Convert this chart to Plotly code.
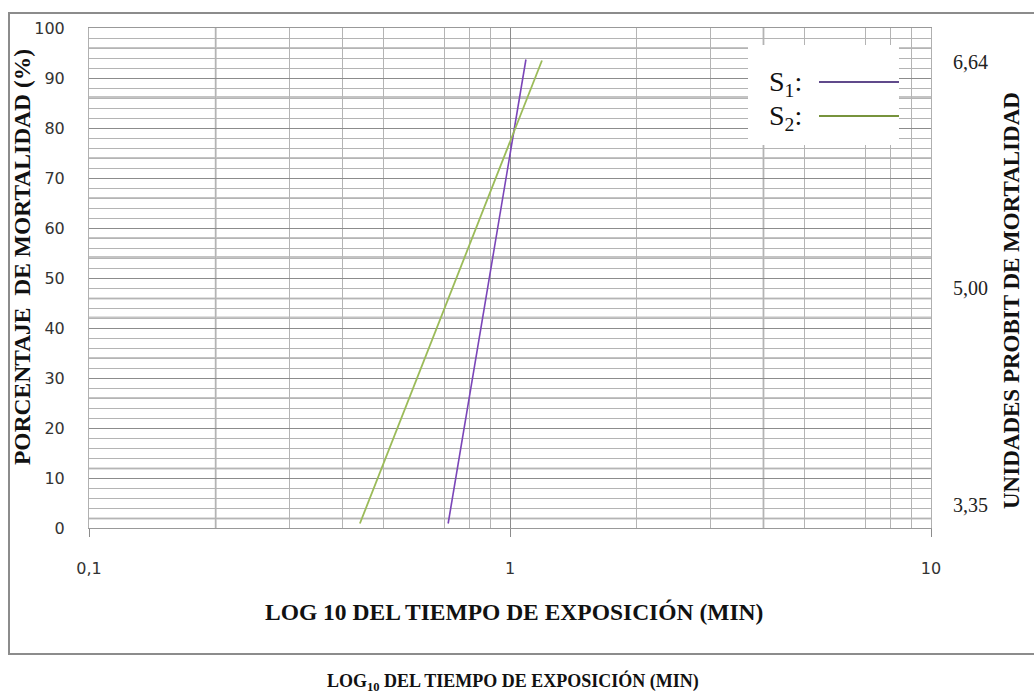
import plotly.graph_objects as go

# ---------------- data ----------------
s1_time = [0.713, 1.091]
s1_mort = [0.9, 93.7]
s2_time = [0.440, 1.191]
s2_mort = [0.9, 93.5]

series_labels = ["S<sub>1</sub>:", "S<sub>2</sub>:"]
series_colors = ["#7a45b8", "#9bbb59"]
legend_colors = ["#604a8b", "#77933c"]

x_tick_vals = [0.1, 1, 10]
x_tick_labels = ["0,1", "1", "10"]
y_tick_vals = [0, 10, 20, 30, 40, 50, 60, 70, 80, 90, 100]
probit_vals = [4.7, 48.1, 93.3]
probit_labels = ["3,35", "5,00", "6,64"]

x_minor = [0.2, 0.3, 0.4, 0.5, 0.7, 0.8, 0.9, 2, 3, 4, 5, 7, 8, 9]
x_thick = [0.2, 4]
y_thick = [1.9, 11.9, 26, 34, 42.1, 45.9, 54.2, 58, 66, 74, 86.2, 96]

# ---------------- geometry helpers ----------------
W, H = 1034, 696
L, R, T, B = 89, 931, 28, 528


def px(x):
    return (x - L) / (R - L)


def py(y):
    return (B - y) / (B - T)


serif = "Liberation Serif, Times New Roman, serif"
sans = "DejaVu Sans, Verdana, sans-serif"

fig = go.Figure()
fig.add_trace(go.Scatter(x=s1_time, y=s1_mort, mode="lines",
                         line=dict(color=series_colors[0], width=1.6),
                         showlegend=False, hoverinfo="skip"))
fig.add_trace(go.Scatter(x=s2_time, y=s2_mort, mode="lines",
                         line=dict(color=series_colors[1], width=1.8),
                         showlegend=False, hoverinfo="skip"))
# anchor trace for the probit (right) axis
fig.add_trace(go.Scatter(x=[None], y=[None], yaxis="y2", mode="lines",
                         showlegend=False, hoverinfo="skip"))

fig.update_layout(
    width=W, height=H,
    margin=dict(l=L, r=W - R, t=T, b=H - B, pad=0),
    paper_bgcolor="white", plot_bgcolor="white",
    showlegend=False,
    xaxis=dict(type="log", range=[-1, 1], tickmode="array",
               tickvals=x_tick_vals, ticktext=x_tick_labels,
               ticks="outside", ticklen=8, tickcolor="#8c8c8c",
               showgrid=True, gridcolor="#8c8c8c", gridwidth=1,
               minor=dict(tickvals=x_minor, showgrid=True,
                          gridcolor="#b4b4b4", gridwidth=1, ticks=""),
               showline=True, linecolor="#999999", linewidth=1, mirror=True,
               zeroline=False, ticklabelstandoff=18,
               tickfont=dict(family=sans, size=16, color="#333333")),
    yaxis=dict(range=[0, 100], tickmode="array", tickvals=y_tick_vals,
               ticks="", showgrid=True, gridcolor="#8c8c8c", gridwidth=1,
               minor=dict(dtick=2, showgrid=True, gridcolor="#b4b4b4",
                          gridwidth=1, ticks=""),
               showline=True, linecolor="#b0b0b0", linewidth=1, mirror=True,
               zeroline=False, ticklabelstandoff=20,
               tickfont=dict(family=sans, size=16, color="#333333")),
    yaxis2=dict(range=[0, 100], overlaying="y", side="right",
                tickmode="array", tickvals=probit_vals, ticktext=probit_labels,
                ticks="", showgrid=False, zeroline=False, showline=False,
                ticklabelstandoff=21,
                tickfont=dict(family=serif, size=20, color="#222222")),
)

shapes = []
# heavier grid strokes of the probit paper
for v in x_thick:
    shapes.append(dict(type="line", xref="x", yref="paper", x0=v, x1=v, y0=0, y1=1,
                       line=dict(color="#c4c4c4", width=2), layer="below"))
for v in y_thick:
    shapes.append(dict(type="line", xref="paper", yref="y", x0=0, x1=1, y0=v, y1=v,
                       line=dict(color="#c4c4c4", width=2), layer="below"))
# outer frame
shapes.append(dict(type="rect", xref="paper", yref="paper",
                   x0=px(9), x1=px(1045), y0=py(654), y1=py(13),
                   line=dict(color="#8c8c8c", width=2), layer="below"))
# legend box
shapes.append(dict(type="rect", xref="paper", yref="paper",
                   x0=px(748), x1=px(899), y0=py(145), y1=py(45),
                   fillcolor="white", line=dict(width=0), layer="above"))
leg_y = [82, 116]
for i in range(2):
    shapes.append(dict(type="line", xref="paper", yref="paper",
                       x0=px(819), x1=px(899), y0=py(leg_y[i]), y1=py(leg_y[i]),
                       line=dict(color=legend_colors[i], width=2), layer="above"))
fig.update_layout(shapes=shapes)

ann = []
for i in range(2):
    ann.append(dict(text=series_labels[i], xref="paper", yref="paper",
                    x=px(767), y=py(leg_y[i] + 1), xanchor="left", yanchor="middle",
                    showarrow=False, font=dict(family=serif, size=28, color="#111")))
ann.append(dict(text="<b>PORCENTAJE  DE MORTALIDAD (%)</b>", xref="paper", yref="paper",
                x=px(22), y=py(257), textangle=-90, showarrow=False,
                xanchor="center", yanchor="middle",
                font=dict(family=serif, size=23.5, color="#111")))
ann.append(dict(text="<b>UNIDADES PROBIT DE MORTALIDAD</b>", xref="paper", yref="paper",
                x=px(1011), y=py(301), textangle=-90, showarrow=False,
                xanchor="center", yanchor="middle",
                font=dict(family=serif, size=23, color="#111")))
ann.append(dict(text="<b>LOG 10 DEL TIEMPO DE EXPOSICIÓN (MIN)</b>", xref="paper", yref="paper",
                x=px(514), y=py(612), showarrow=False,
                xanchor="center", yanchor="middle",
                font=dict(family=serif, size=23.5, color="#111")))
ann.append(dict(text="<b>LOG<sub>10</sub> DEL TIEMPO DE EXPOSICIÓN (MIN)</b>", xref="paper", yref="paper",
                x=px(513), y=py(682), showarrow=False,
                xanchor="center", yanchor="middle",
                font=dict(family=serif, size=18, color="#111")))
fig.update_layout(annotations=ann)

fig.write_html("out.html", config={"displayModeBar": False},
               post_script="document.body.style.margin='0px';")
